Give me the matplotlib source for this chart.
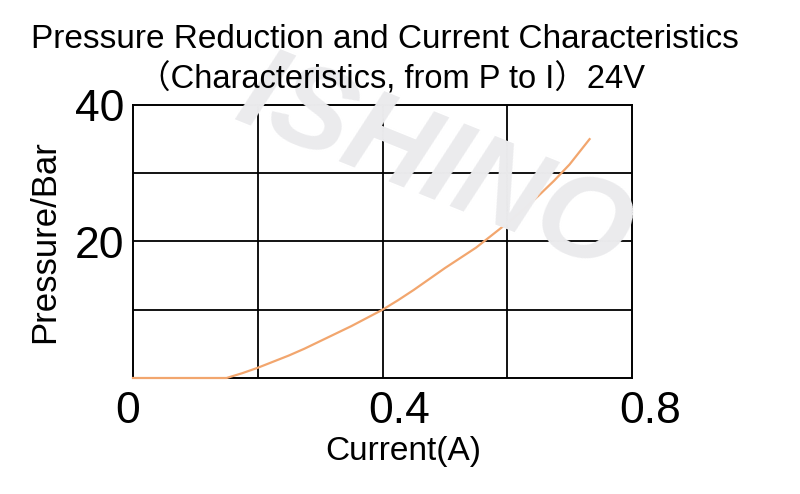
from matplotlib import pyplot as plt
from matplotlib import transforms
import numpy as np

# values
current = [0.0, 0.15, 0.175, 0.2, 0.225, 0.25, 0.275, 0.3, 0.325, 0.35, 0.375, 0.4,
           0.425, 0.45, 0.475, 0.5, 0.525, 0.55, 0.575, 0.6, 0.625, 0.65, 0.675, 0.7, 0.732]
pressure = [0.0, 0.0, 0.7, 1.5, 2.4, 3.3, 4.3, 5.4, 6.5, 7.6, 8.8, 10.0,
            11.4, 12.9, 14.5, 16.1, 17.6, 19.1, 20.9, 22.7, 24.6, 26.7, 28.9, 31.3, 35.0]

x_ticks = [0, 0.4, 0.8]
x_labels = ["0", "0.4", "0.8"]
y_ticks = [20, 40]
y_labels = ["20", "40"]
x_grid = [0.2, 0.4, 0.6]
y_grid = [10, 20, 30]

font = ["Liberation Sans", "DejaVu Sans"]
cjk = ["Liberation Sans", "Noto Sans CJK SC", "DejaVu Sans"]
plt.rcParams['font.family'] = font

fig = plt.figure(figsize=(8, 4.94), dpi=100)
ax = fig.add_axes([133 / 800, 1 - 378 / 494, (632 - 133) / 800, (378 - 105) / 494])
ax.patch.set_alpha(0)

# watermark
fig.text(435 / 800, 1 - 168 / 494, "ISHINO", rotation=-22, fontsize=86, fontweight="bold",
         fontstyle="italic", color="#ebebed", ha="center", va="center", zorder=0)

ax.plot(current, pressure, color="#f2a66e", lw=1.6, zorder=3, clip_on=False)

for gx in x_grid:
    ax.axvline(gx, color="black", lw=1.3, zorder=2)
for gy in y_grid:
    ax.axhline(gy, color="black", lw=1.3, zorder=2)

ax.set_xlim(0, 0.8)
ax.set_ylim(0, 40)
ax.set_xticks(x_ticks)
ax.set_xticklabels(x_labels, fontsize=32)
ax.set_yticks(y_ticks)
ax.set_yticklabels(y_labels, fontsize=32)
ax.tick_params(which="both", length=0)
ax.tick_params(axis="x", pad=9)
ax.tick_params(axis="y", pad=6)
for s in ax.spines.values():
    s.set_linewidth(1.4)
    s.set_color("black")

# the x labels sit a bit off their ticks in the reference
for lab, dx in zip(ax.get_xticklabels(), [-5, 17, 18]):
    lab.set_transform(lab.get_transform() + transforms.ScaledTranslation(dx / 100, 0, fig.dpi_scale_trans))

ax.set_xlabel("Current(A)", fontsize=24)
ax.xaxis.set_label_coords((403 - 133) / (632 - 133), -(436 - 378) / (378 - 105), transform=ax.transAxes)
ax.xaxis.label.set_va("top")
ax.set_ylabel("Pressure/Bar", fontsize=25, labelpad=10)

fig.text(385 / 800, 1 - 40 / 494, "Pressure Reduction and Current Characteristics",
         fontsize=24, ha="center", va="center")
fig.text(392 / 800, 1 - 79 / 494, "（Characteristics, from P to I）24V",
         fontsize=23.5, ha="center", va="center", family=cjk)

fig.savefig("out.png", dpi=100)
